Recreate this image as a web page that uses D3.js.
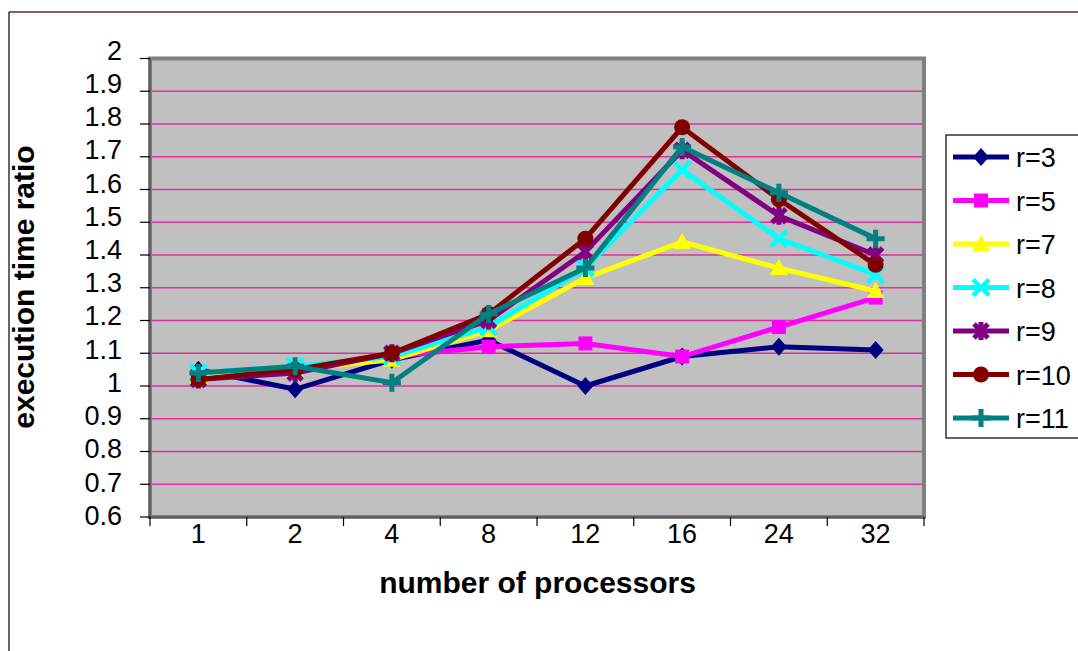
<!DOCTYPE html>
<html><head><meta charset="utf-8">
<script src="https://cdn.jsdelivr.net/npm/d3@7"></script>
<style>body{margin:0;background:#fff}svg{display:block}text{font-family:"Liberation Sans",Arial,sans-serif}</style>
</head><body>
<svg id="c" width="1078" height="651"></svg>
<script>
const categories = ["1","2","4","8","12","16","24","32"];
const seriesNames = ["r=3","r=5","r=7","r=8","r=9","r=10","r=11"];
const r3  = [1.05,0.99,1.08,1.14,1.00,1.09,1.12,1.11];
const r5  = [1.03,1.05,1.09,1.12,1.13,1.09,1.18,1.27];
const r7  = [1.03,1.05,1.08,1.17,1.33,1.44,1.36,1.29];
const r8  = [1.04,1.06,1.09,1.18,1.36,1.66,1.45,1.34];
const r9  = [1.02,1.04,1.10,1.20,1.41,1.72,1.52,1.40];
const r10 = [1.02,1.05,1.10,1.22,1.45,1.79,1.57,1.37];
const r11 = [1.04,1.06,1.01,1.22,1.36,1.73,1.59,1.45];
const yTicks = [0.6,0.7,0.8,0.9,1,1.1,1.2,1.3,1.4,1.5,1.6,1.7,1.8,1.9,2];
const yTickLabels = ["0.6","0.7","0.8","0.9","1","1.1","1.2","1.3","1.4","1.5","1.6","1.7","1.8","1.9","2"];
const colors = ["#000080","#FF00FF","#FFFF00","#00FFFF","#800080","#800000","#008080"];
const markers = ["diamond","square","triangle","x","star","circle","plus"];
const allValues = [r3,r5,r7,r8,r9,r10,r11];

const svg = d3.select("#c");
// outer frame
svg.append("line").attr("x1",9).attr("x2",1078).attr("y1",12).attr("y2",12).attr("stroke","#5a2848").attr("stroke-width",1.5);
svg.append("line").attr("x1",9).attr("x2",9).attr("y1",12).attr("y2",651).attr("stroke","#000").attr("stroke-width",1.2);

const L=150, R=924, T=58.5, B=517;
const x = d3.scaleBand().domain(categories).range([L,R]);
const y = d3.scaleLinear().domain([0.6,2]).range([B,T]);
const yLab = d3.scaleLinear().domain([0.6,2]).range([515,50]);

svg.append("rect").attr("x",L).attr("y",T).attr("width",R-L).attr("height",B-T).attr("fill","#C0C0C0");
// gridlines
svg.append("g").selectAll("line").data(yTicks.slice(1,-1)).join("line")
  .attr("x1",L).attr("x2",R).attr("y1",d=>y(d)).attr("y2",d=>y(d))
  .attr("stroke","#E0309A").attr("stroke-width",1.3);
svg.append("rect").attr("x",L).attr("y",T).attr("width",R-L).attr("height",B-T)
  .attr("fill","none").attr("stroke","#808080").attr("stroke-width",4);
svg.append("line").attr("x1",L).attr("x2",L).attr("y1",T).attr("y2",B+2).attr("stroke","#606060").attr("stroke-width",2);
svg.append("line").attr("x1",L).attr("x2",R).attr("y1",B).attr("y2",B).attr("stroke","#606060").attr("stroke-width",2);

// y ticks
svg.append("g").selectAll("line").data(yTicks).join("line")
  .attr("x1",140).attr("x2",L).attr("y1",d=>y(d)).attr("y2",d=>y(d)).attr("stroke","#000").attr("stroke-width",1.2);
svg.append("g").selectAll("text").data(yTicks).join("text")
  .attr("x",122).attr("y",d=>yLab(d)).attr("dy","0.36em").attr("text-anchor","end")
  .attr("font-size",27).text((d,i)=>yTickLabels[i]);
// x ticks
const bounds = categories.map(c=>x(c)).concat([R]);
svg.append("g").selectAll("line").data(bounds).join("line")
  .attr("x1",d=>d).attr("x2",d=>d).attr("y1",B).attr("y2",B+9).attr("stroke","#000").attr("stroke-width",1.2);
svg.append("g").selectAll("text").data(categories).join("text")
  .attr("x",d=>x(d)+x.bandwidth()/2).attr("y",543).attr("text-anchor","middle")
  .attr("font-size",27).text(d=>d);

// titles
svg.append("text").attr("x",537.5).attr("y",593).attr("text-anchor","middle")
  .attr("font-size",30).attr("font-weight","bold").text("number of processors");
svg.append("text").attr("transform","translate(34,287) rotate(-90)").attr("text-anchor","middle")
  .attr("font-size",30).attr("font-weight","bold").text("execution time ratio");

function drawMarker(g, type, color){
  const s=8;
  if(type==="diamond") g.append("path").attr("d",`M0,${-s-1}L${s},0L0,${s+1}L${-s},0Z`).attr("fill",color);
  else if(type==="square") g.append("rect").attr("x",-7).attr("y",-7).attr("width",14).attr("height",14).attr("fill",color);
  else if(type==="triangle") g.append("path").attr("d",`M0,-9L9,7L-9,7Z`).attr("fill",color);
  else if(type==="circle") g.append("circle").attr("r",8).attr("fill",color);
  else if(type==="x") g.append("path").attr("d","M-8,-8L8,8M-8,8L8,-8").attr("stroke",color).attr("stroke-width",4.5);
  else if(type==="star") g.append("path").attr("d","M-7,-7L7,7M-7,7L7,-7M0,-9L0,9").attr("stroke",color).attr("stroke-width",5);
  else if(type==="plus") g.append("path").attr("d","M-9,0L9,0M0,-9L0,9").attr("stroke",color).attr("stroke-width",5);
}

const line = d3.line().x((d,i)=>x(categories[i])+x.bandwidth()/2).y(d=>y(d));
allValues.forEach((vals,k)=>{
  const g = svg.append("g");
  g.append("path").attr("d",line(vals)).attr("fill","none").attr("stroke",colors[k]).attr("stroke-width",5).attr("stroke-linejoin","miter");
  vals.forEach((v,i)=>{
    const mg = g.append("g").attr("transform",`translate(${x(categories[i])+x.bandwidth()/2},${y(v)})`);
    drawMarker(mg, markers[k], colors[k]);
  });
});

// legend
svg.append("rect").attr("x",946).attr("y",135).attr("width",140).attr("height",303)
  .attr("fill","#fff").attr("stroke","#333").attr("stroke-width",1.5);
seriesNames.forEach((n,k)=>{
  const by = 167 + k*43.5;
  const cy = by - 10;
  const g = svg.append("g");
  g.append("line").attr("x1",953).attr("x2",1009).attr("y1",cy).attr("y2",cy).attr("stroke",colors[k]).attr("stroke-width",5);
  drawMarker(g.append("g").attr("transform",`translate(981,${cy})`), markers[k], colors[k]);
  g.append("text").attr("x",1016).attr("y",by).attr("font-size",27).text(n);
});
</script>
</body></html>
